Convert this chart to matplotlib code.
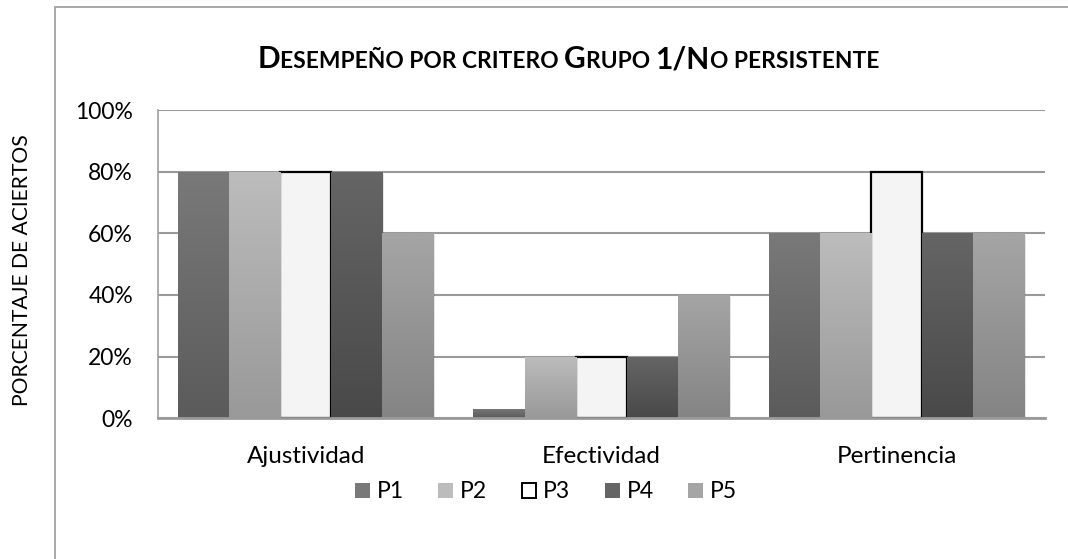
import numpy as np
import matplotlib
matplotlib.use('Agg')
from matplotlib import pyplot as plt
from matplotlib.colors import LinearSegmentedColormap
from matplotlib.patches import Rectangle

## Data ##
criterios = ['Ajustividad', 'Efectividad', 'Pertinencia']
series = ['P1', 'P2', 'P3', 'P4', 'P5']
p1 = [80, 3, 60]
p2 = [80, 20, 60]
p3 = [80, 20, 80]
p4 = [80, 20, 60]
p5 = [60, 40, 60]
valores = [p1, p2, p3, p4, p5]
yticks = [0, 20, 40, 60, 80, 100]

# (top colour, bottom colour) for the gradient fill
colores = [('#797979', '#5b5b5b'),
           ('#bcbcbc', '#999999'),
           ('#f4f4f4', '#f4f4f4'),
           ('#656565', '#494949'),
           ('#a5a5a5', '#848484')]

plt.rcParams['font.family'] = ['Lato', 'DejaVu Sans']

## Plotting ##
fig = plt.figure(figsize=(10.68, 5.59), dpi=100)
ax = fig.add_axes([0.148, 0.252, 0.830, 0.551])

# chart frame (only top and left edges visible in the picture)
fig.add_artist(Rectangle((55 / 1068, -0.1), 1.2, (559 - 7) / 559 + 0.1,
                         transform=fig.transFigure, fill=False,
                         edgecolor='#a0a0a0', linewidth=1.3, zorder=0))

x = np.arange(len(criterios))
w = 0.173
for i, (vals, (ctop, cbot)) in enumerate(zip(valores, colores)):
    pos = x + (i - 2) * w
    if i == 2:
        bars = ax.bar(pos, vals, w, color=ctop, edgecolor='black',
                      linewidth=1.6, zorder=3)
        continue
    bars = ax.bar(pos, vals, w, color=cbot, linewidth=0, zorder=3)
    cmap = LinearSegmentedColormap.from_list('g%d' % i, [cbot, ctop])
    grad = np.linspace(1, 0, 100).reshape(-1, 1)
    for b in bars:
        x0, h = b.get_x(), b.get_height()
        # shadow to the right/bottom
        ax.add_patch(Rectangle((x0 + 0.006, -0.6), w, h, color='#000000',
                               alpha=0.10, linewidth=0, zorder=2))
        im = ax.imshow(grad, cmap=cmap, extent=[x0, x0 + w, 0, h],
                       aspect='auto', zorder=3.5, interpolation='bilinear')
        im.set_clip_path(b)

ax.set_xlim(-0.5, 2.5)
ax.set_ylim(0, 100)
ax.set_xticks(x)
ax.set_xticklabels(criterios, fontsize=17.5)
ax.set_yticks(yticks)
ax.set_yticklabels(['%d%%' % v for v in yticks], fontsize=16.5)
ax.tick_params(axis='y', length=0, pad=18)
ax.tick_params(axis='x', length=0, pad=20)
ax.yaxis.grid(True, color='#9a9a9a', linewidth=1.5, zorder=1)
ax.set_axisbelow(True)
for s in ['top', 'right']:
    ax.spines[s].set_visible(False)
ax.spines['left'].set_color('#a0a0a0')
ax.spines['left'].set_linewidth(1.2)
ax.spines['bottom'].set_color('#9a9a9a')
ax.spines['bottom'].set_linewidth(2)
ax.spines['bottom'].set_zorder(5)

fig.text(22 / 1068, 1 - 270 / 559, 'PORCENTAJE DE ACIERTOS', rotation=90,
         ha='center', va='center', fontsize=15.2)

# legend
handles = []
for i, (ctop, cbot) in enumerate(colores):
    ec = 'black' if i == 2 else 'none'
    fc = 'white' if i == 2 else ctop
    handles.append(Rectangle((0, 0), 1, 1, facecolor=fc, edgecolor=ec, linewidth=1.4))
fig.legend(handles, series, loc='center', bbox_to_anchor=(546 / 1068, 1 - 492 / 559),
           ncol=5, frameon=False, fontsize=16.5, handlelength=0.65, handleheight=0.65,
           handletextpad=0.3, columnspacing=1.5)

# title in small caps, built from pieces
piezas = [('D', True), ('ESEMPEÑO POR CRITERO ', False), ('G', True),
          ('RUPO ', False), ('1/N', True), ('O PERSISTENTE', False)]
fig.canvas.draw()
renderer = fig.canvas.get_renderer()
textos = []
for txt, grande in piezas:
    t = fig.text(0, 1 - 68 / 559, txt, fontsize=21.5 if grande else 16.4,
                 fontweight='bold', va='baseline', ha='left')
    textos.append(t)
anchos = [t.get_window_extent(renderer).width for t in textos]
xpos = 568 - sum(anchos) / 2
for t, a in zip(textos, anchos):
    t.set_x(xpos / 1068)
    xpos += a

fig.savefig('out.png', dpi=100)
